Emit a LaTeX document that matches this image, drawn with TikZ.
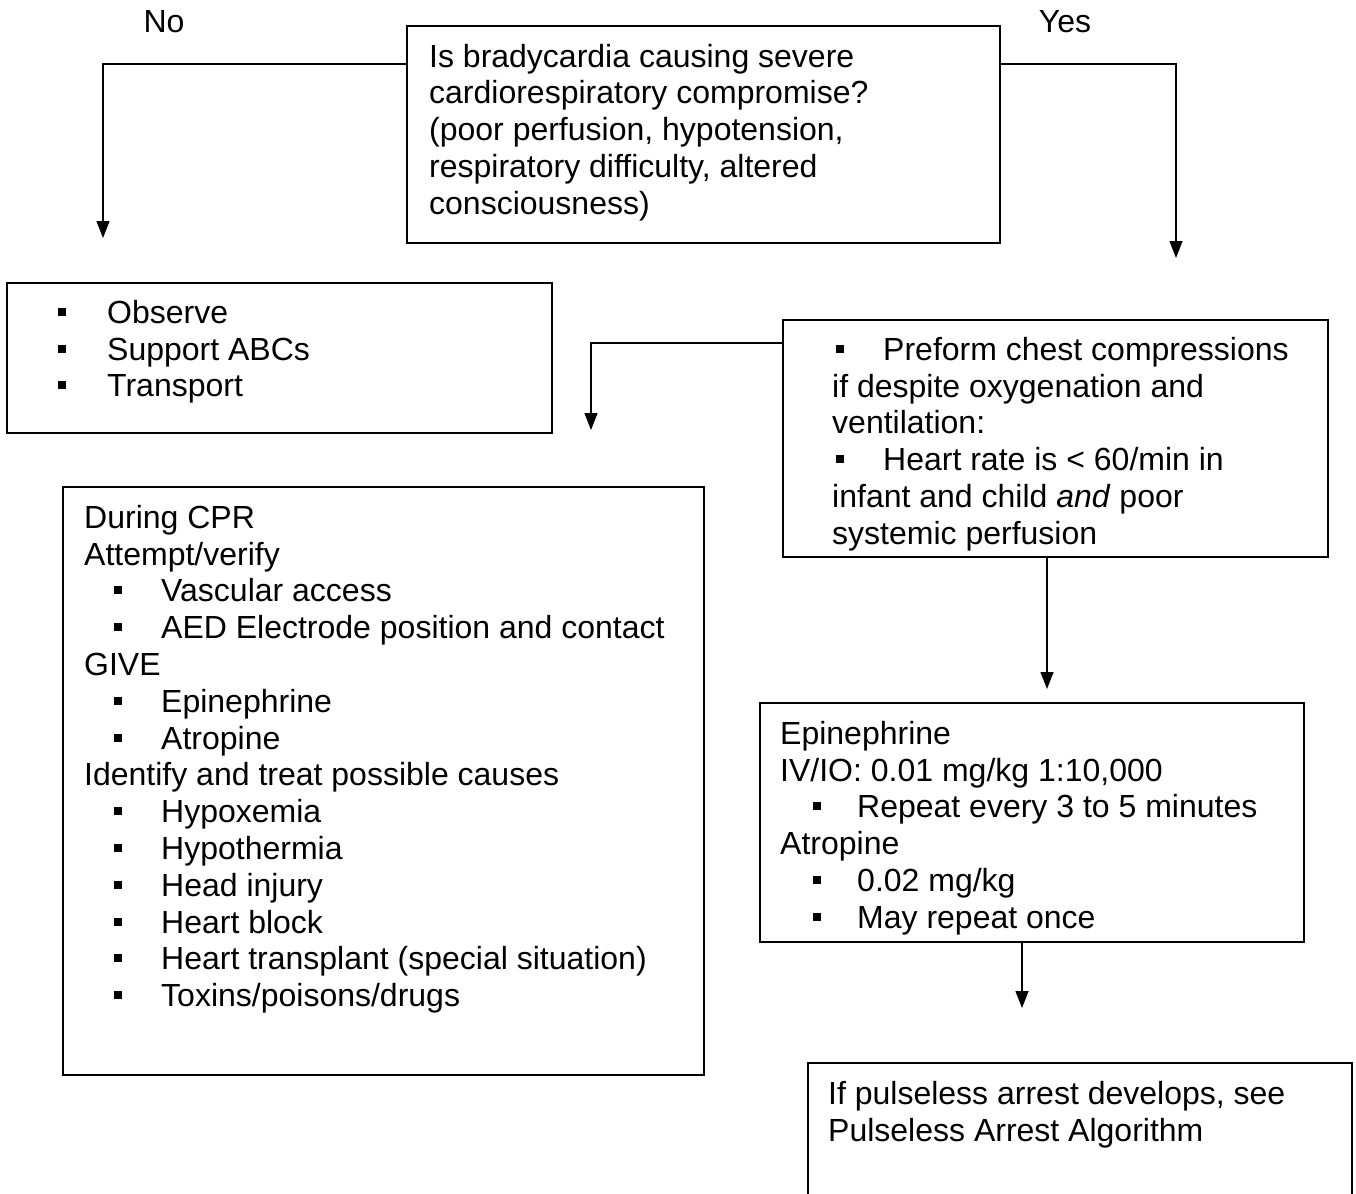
\documentclass[tikz,border=0pt]{standalone}
\usepackage{fontspec}
\setmainfont{Liberation Sans}
\usetikzlibrary{arrows.meta}
% square bullet and bulleted line: indent, bullet column width, text
\newcommand{\sqb}{\raisebox{7.5pt}{\rule{8pt}{8pt}}}
\newcommand{\blt}[3]{\hspace*{#1}\makebox[#2][l]{\sqb}#3}
% fixed first-line height so every block's first baseline sits 26pt below its top
\newcommand{\fl}{\rule{0pt}{26pt}}

\begin{document}
\begin{tikzpicture}[x=1pt,y=-1pt,
  box/.style={draw, line width=1.6pt, rectangle, inner sep=0pt, outer sep=0pt, anchor=north west},
  txt/.style={anchor=north west, inner sep=0pt, align=left, font=\fontsize{32}{36.8}\selectfont},
  lbl/.style={inner sep=0pt, anchor=base, font=\fontsize{32}{36.8}\selectfont},
  conn/.style={line width=1.4pt, -{Triangle[length=17pt,width=13pt]}}]
\useasboundingbox (0,0) rectangle (1356,1193);

% branch labels
\node[lbl] (no) at (164,33) {No};
\node[lbl] (yes) at (1065,33) {Yes};

% boxes
\node[box, minimum width=593pt, minimum height=217pt] (q) at (407,26) {};
\node[box, minimum width=545pt, minimum height=150pt] (obs) at (7,283) {};
\node[box, minimum width=545pt, minimum height=237pt] (cc) at (783,320) {};
\node[box, minimum width=641pt, minimum height=588pt] (cpr) at (63,487) {};
\node[box, minimum width=544pt, minimum height=239pt] (epi) at (760,703) {};
\node[box, minimum width=544pt, minimum height=170pt] (pul) at (808,1063) {};

% box texts
\node[txt] (qt) at (429,41) {\fl Is bradycardia causing severe\\
cardiorespiratory compromise?\\
(poor perfusion, hypotension,\\
respiratory difficulty, altered\\
consciousness)};

\node[txt] (obst) at (58,297) {\fl\blt{0pt}{49pt}{Observe}\\
\blt{0pt}{49pt}{Support ABCs}\\
\blt{0pt}{49pt}{Transport}};

\node[txt] (cct) at (832,334) {\fl\blt{4pt}{47pt}{Preform chest compressions}\\
if despite oxygenation and\\
ventilation:\\
\blt{4pt}{47pt}{Heart rate is < 60/min in}\\
infant and child \textit{and} poor\\
systemic perfusion};

\node[txt] (cprt) at (84,502) {\fl During CPR\\
Attempt/verify\\
\blt{30pt}{47pt}{Vascular access}\\
\blt{30pt}{47pt}{AED Electrode position and contact}\\
GIVE\\
\blt{30pt}{47pt}{Epinephrine}\\
\blt{30pt}{47pt}{Atropine}\\
Identify and treat possible causes\\
\blt{30pt}{47pt}{Hypoxemia}\\
\blt{30pt}{47pt}{Hypothermia}\\
\blt{30pt}{47pt}{Head injury}\\
\blt{30pt}{47pt}{Heart block}\\
\blt{30pt}{47pt}{Heart transplant (special situation)}\\
\blt{30pt}{47pt}{Toxins/poisons/drugs}};

\node[txt] (epit) at (780,718) {\fl Epinephrine\\
IV/IO: 0.01 mg/kg 1:10,000\\
\blt{33pt}{44pt}{Repeat every 3 to 5 minutes}\\
Atropine\\
\blt{33pt}{44pt}{0.02 mg/kg}\\
\blt{33pt}{44pt}{May repeat once}};

\node[txt] (pult) at (828,1078) {\fl If pulseless arrest develops, see\\
Pulseless Arrest Algorithm};

% connectors
\coordinate (noTurn) at (103,64);
\coordinate (noEnd) at (103,238);
\coordinate (yesTurn) at (1176,64);
\coordinate (yesEnd) at (1176,258);
\coordinate (cprTurn) at (591,343);
\coordinate (cprEnd) at (591,430);
\coordinate (epiEnd) at (1047,689);
\coordinate (pulEnd) at (1022,1008);

\draw[conn] (noTurn -| q.west) -- (noTurn) -- (noEnd);
\draw[conn] (yesTurn -| q.east) -- (yesTurn) -- (yesEnd);
\draw[conn] (cprTurn -| cc.west) -- (cprTurn) -- (cprEnd);
\draw[conn] (epiEnd |- cc.south) -- (epiEnd);
\draw[conn] (pulEnd |- epi.south) -- (pulEnd);
\end{tikzpicture}
\end{document}
